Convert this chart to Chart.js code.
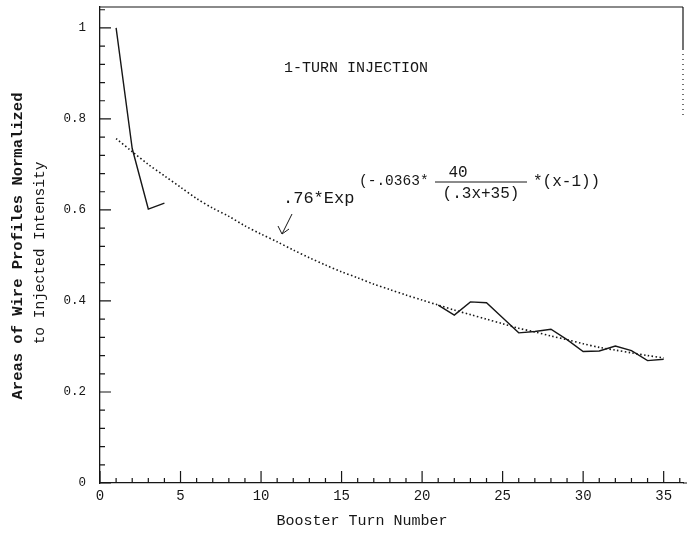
<!DOCTYPE html>
<html>
<head>
<meta charset="utf-8">
<script src="https://cdn.jsdelivr.net/npm/chart.js@4.4.0/dist/chart.umd.min.js"></script>
<style>
  html, body { margin: 0; padding: 0; background: #fff; }
  #wrap { width: 688px; height: 536px; }
</style>
</head>
<body>
<div id="wrap"><canvas id="c" width="688" height="536"></canvas></div>
<script>
// measured wire profile areas (solid line), two separate runs of turns
const earlyTurns = [1, 2, 3, 4];
const earlyArea = [1.0, 0.735, 0.602, 0.615];
const lateTurns = [21, 22, 23, 24, 25, 26, 27, 28, 29, 30, 31, 32, 33, 34, 35];
const lateArea = [0.391, 0.369, 0.398, 0.396, 0.363, 0.330, 0.333, 0.338, 0.315, 0.289, 0.290, 0.301, 0.291, 0.269, 0.272];

// fitted curve (dotted)
const fitTurns = [1, 2, 3, 4, 5, 6, 7, 8, 9, 10, 11, 12, 13, 14, 15, 16, 17, 18,
  19, 20, 21, 22, 23, 24, 25, 26, 27, 28, 29, 30, 31, 32, 33, 34, 35];
const fitArea = [0.757, 0.728, 0.700, 0.675, 0.650, 0.625, 0.604, 0.586, 0.565, 0.547,
  0.530, 0.512, 0.495, 0.479, 0.464, 0.451, 0.437, 0.425, 0.413, 0.402,
  0.391, 0.380, 0.370, 0.360, 0.350, 0.340, 0.332, 0.323, 0.315, 0.306,
  0.298, 0.292, 0.286, 0.280, 0.275];

const xLabelEvery = 5;
const yLabelEvery = 0.2;

const INK = '#161616';
const MONO = '"Liberation Mono", "DejaVu Sans Mono", monospace';

function pts(xs, ys){ return xs.map((x, i) => ({ x, y: ys[i] })); }
function isMultiple(v, step){ return Math.abs(v / step - Math.round(v / step)) < 1e-6; }

// inward tick marks, frame and free text
const decor = {
  id: 'decor',
  afterDraw(chart){
    const { ctx, chartArea: a, scales } = chart;
    ctx.save();
    ctx.strokeStyle = INK;
    ctx.fillStyle = INK;
    ctx.lineWidth = 1.2;

    // frame top + bit of right side
    ctx.beginPath();
    ctx.moveTo(a.left, a.top); ctx.lineTo(a.right, a.top);
    ctx.moveTo(a.right, a.top); ctx.lineTo(a.right, a.top + 42);
    ctx.moveTo(a.right, a.bottom); ctx.lineTo(a.right + 4, a.bottom);
    ctx.stroke();
    ctx.setLineDash([1, 4]);
    ctx.beginPath();
    ctx.moveTo(a.right, a.top + 42); ctx.lineTo(a.right, a.top + 110);
    ctx.stroke();
    ctx.setLineDash([]);

    // ticks pointing into the plot
    ctx.beginPath();
    scales.x.ticks.forEach(t => {
      const px = scales.x.getPixelForValue(t.value);
      const len = isMultiple(t.value, xLabelEvery) ? 12 : 5;
      ctx.moveTo(px, a.bottom); ctx.lineTo(px, a.bottom - len);
    });
    scales.y.ticks.forEach(t => {
      const py = scales.y.getPixelForValue(t.value);
      const len = isMultiple(t.value, yLabelEvery) ? 11 : 5;
      ctx.moveTo(a.left, py); ctx.lineTo(a.left + len, py);
    });
    ctx.stroke();

    // y title, two lines
    ctx.textAlign = 'center';
    ctx.textBaseline = 'middle';
    ctx.save();
    ctx.translate(18, 246);
    ctx.rotate(-Math.PI / 2);
    ctx.font = 'bold 15.5px ' + MONO;
    ctx.fillText('Areas of Wire Profiles Normalized', 0, 0);
    ctx.restore();
    ctx.save();
    ctx.translate(40, 253);
    ctx.rotate(-Math.PI / 2);
    ctx.font = '14.5px ' + MONO;
    ctx.fillText('to Injected Intensity', 0, 0);
    ctx.restore();

    // x title
    ctx.font = '15px ' + MONO;
    ctx.fillText('Booster Turn Number', 362, 521);

    // panel label
    ctx.fillText('1-TURN INJECTION', 356, 68);

    // fit formula
    ctx.textAlign = 'left';
    ctx.textBaseline = 'alphabetic';
    ctx.font = '17px ' + MONO;
    ctx.fillText('.76*Exp', 283, 203);
    ctx.font = '14.5px ' + MONO;
    ctx.fillText('(-.0363*', 359, 185);
    ctx.font = '16px ' + MONO;
    ctx.textAlign = 'center';
    ctx.fillText('40', 458, 177);
    ctx.fillText('(.3x+35)', 481, 198);
    ctx.textAlign = 'left';
    ctx.fillText('*(x-1))', 533, 186);
    ctx.lineWidth = 1;
    ctx.beginPath();
    ctx.moveTo(435, 182); ctx.lineTo(527, 182);
    // arrow to the curve
    ctx.moveTo(292, 214); ctx.lineTo(282, 234);
    ctx.moveTo(282, 234); ctx.lineTo(278, 226);
    ctx.moveTo(282, 234); ctx.lineTo(289, 229);
    ctx.stroke();

    ctx.restore();
  }
};

const solid = { borderColor: INK, borderWidth: 1.4, pointRadius: 0, tension: 0, fill: false };

new Chart(document.getElementById('c'), {
  type: 'line',
  data: {
    datasets: [
      Object.assign({ label: 'measured', data: pts(earlyTurns, earlyArea) }, solid),
      Object.assign({ label: 'measured', data: pts(lateTurns, lateArea) }, solid),
      { label: 'fit', data: pts(fitTurns, fitArea), borderColor: INK, borderWidth: 1.6,
        borderDash: [1.5, 2.4], pointRadius: 0, tension: 0.3, fill: false }
    ]
  },
  options: {
    responsive: false,
    animation: false,
    layout: { padding: { left: 0, right: 5, top: 7, bottom: 0 } },
    plugins: { legend: { display: false }, tooltip: { enabled: false } },
    scales: {
      x: {
        type: 'linear', min: 0, max: 36.2,
        afterFit(s){ s.height = 53; s.paddingLeft = 0; s.paddingRight = 0; },
        grid: { display: false, drawTicks: false },
        border: { display: true, color: INK, width: 1.3 },
        ticks: {
          stepSize: 1, autoSkip: false, maxRotation: 0, includeBounds: false, padding: 5,
          color: INK, font: { family: MONO, size: 14 },
          callback: v => isMultiple(v, xLabelEvery) ? String(v) : ''
        }
      },
      y: {
        type: 'linear', min: 0, max: 1.046,
        afterFit(s){ s.width = 100; s.paddingTop = 0; s.paddingBottom = 0; },
        grid: { display: false, drawTicks: false },
        border: { display: true, color: INK, width: 1.3 },
        ticks: {
          stepSize: 0.04, autoSkip: false, includeBounds: false, padding: 14,
          color: INK, font: { family: MONO, size: 12.5 },
          callback: v => isMultiple(v, yLabelEvery) ? String(Math.round(v * 10) / 10) : ''
        }
      }
    }
  },
  plugins: [decor]
});
</script>
</body>
</html>
